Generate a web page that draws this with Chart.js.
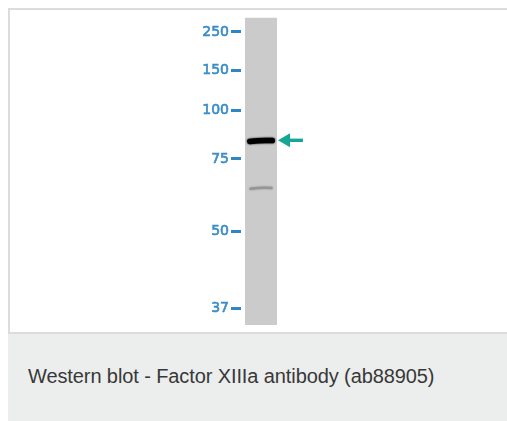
<!DOCTYPE html>
<html>
<head>
<meta charset="utf-8">
<script src="https://cdn.jsdelivr.net/npm/chart.js@4/dist/chart.umd.min.js"></script>
<style>
    html, body { margin: 0; padding: 0; background: #fff; }
    body { width: 507px; height: 421px; position: relative; overflow: hidden; }
    .panel {
        position: absolute; left: 8px; top: 8px; width: 497px; height: 322px;
        border-left: 2px solid #dcdcdc; border-top: 2px solid #dcdcdc; border-bottom: 2px solid #dcdcdc;
        background: #fff;
    }
    .panel canvas { position: absolute; left: 0; top: 0; }
    .caption {
        position: absolute; left: 8px; top: 334px; width: 499px; height: 87px;
        background: #eceeed;
    }
    .caption span {
        position: absolute; left: 20px; top: 32px;
        font-family: "Liberation Sans", Arial, sans-serif; font-size: 20px; line-height: 20px;
        color: #383838; letter-spacing: -0.1px; white-space: nowrap;
    }
</style>
</head>
<body>
<div class="panel"><canvas id="blotChart" width="496" height="322"></canvas></div>
<div class="caption"><span>Western blot - Factor XIIIa antibody (ab88905)</span></div>

<script>
// Western blot: marker ladder and bands, positions as relative migration (Rf, 0 = well, 1 = lane end)
const ladderKda = [250, 150, 100, 75, 50, 37];
const ladderRf = [0.047, 0.171, 0.301, 0.460, 0.697, 0.946];
const laneLabels = ['Lane 1'];
const laneSpan = [[0, 1]];
const bandRf = [0.401, 0.555];
const bandSignal = [1.0, 0.25];

const markerBlue = '#3a8cc6';
const arrowTeal = '#17a596';

// draws the bands inside the lane and the arrow next to the main one
const bandPlugin = {
    id: 'bands',
    afterDatasetsDraw(chart) {
        const ctx = chart.ctx;
        const yScale = chart.scales.y;
        const lane = chart.getDatasetMeta(0).data[0];
        const left = lane.x - lane.width / 2;
        const right = lane.x + lane.width / 2;

        ctx.save();
        bandRf.forEach((rf, i) => {
            const s = bandSignal[i];
            const y = yScale.getPixelForValue(rf);
            const lw = 1.5 + 4 * s;
            const inset = 2 + lw / 2 + (1 - s) * 3;
            const shade = Math.round(200 * (1 - s));
            const col = `rgb(${shade},${shade},${shade})`;
            ctx.strokeStyle = col;
            ctx.shadowColor = col;
            ctx.shadowBlur = 2;
            ctx.lineWidth = lw;
            ctx.lineCap = 'round';
            ctx.beginPath();
            ctx.moveTo(left + inset, y + 0.6);
            ctx.quadraticCurveTo(lane.x, y - 0.8, right - inset, y - 0.2);
            ctx.stroke();
        });

        // arrow pointing at the strongest band
        const main = bandSignal.indexOf(Math.max(...bandSignal));
        const ay = yScale.getPixelForValue(bandRf[main]) - 0.5;
        const tip = right + 1;
        ctx.shadowBlur = 0;
        ctx.fillStyle = arrowTeal;
        ctx.beginPath();
        ctx.moveTo(tip, ay);
        ctx.lineTo(tip + 12, ay - 7);
        ctx.lineTo(tip + 12, ay + 7);
        ctx.closePath();
        ctx.fill();
        ctx.fillRect(tip + 10, ay - 1.7, 15, 3.4);
        ctx.restore();
    }
};

const ctx = document.getElementById('blotChart').getContext('2d');
new Chart(ctx, {
    type: 'bar',
    data: {
        labels: laneLabels,
        datasets: [{
            data: laneSpan,
            backgroundColor: '#cbcbcb',
            borderWidth: 0,
            barPercentage: 1,
            categoryPercentage: 0.8
        }]
    },
    options: {
        responsive: false,
        animation: false,
        events: [],
        layout: { padding: { left: 0, top: 7.5, right: 225, bottom: 7 } },
        plugins: { legend: { display: false }, tooltip: { enabled: false } },
        scales: {
            x: { display: false },
            y: {
                reverse: true,
                min: 0,
                max: 1,
                afterFit(scale) {
                    scale.width = 231;
                    scale.paddingTop = 0;
                    scale.paddingBottom = 0;
                },
                afterBuildTicks(scale) { scale.ticks = ladderRf.map(v => ({ value: v })); },
                border: { display: false },
                grid: {
                    drawOnChartArea: false,
                    drawTicks: true,
                    tickLength: 10,
                    tickColor: '#2f86c4',
                    tickWidth: 3
                },
                ticks: {
                    autoSkip: false,
                    padding: 2,
                    color: markerBlue,
                    textStrokeColor: markerBlue,
                    textStrokeWidth: 0.6,
                    font: { family: 'DejaVu Sans', size: 14 },
                    callback: (value, index) => ladderKda[index]
                }
            }
        }
    },
    plugins: [bandPlugin]
});
</script>
</body>
</html>
